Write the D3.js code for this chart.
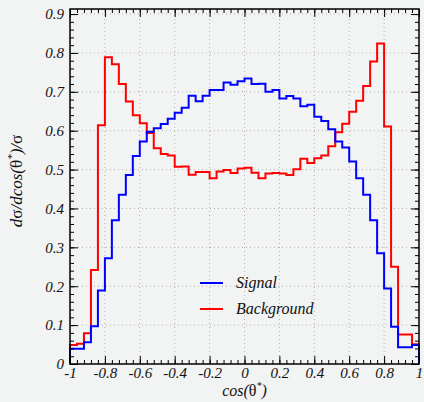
<!DOCTYPE html>
<html>
<head>
<meta charset="utf-8">
<script src="https://cdn.jsdelivr.net/npm/d3@7"></script>
<style>
  html, body { margin: 0; padding: 0; background: #f2f3f3; }
  svg { display: block; }
</style>
</head>
<body>
<div id="chart"></div>
<script>
// histogram data: 50 bins of cos(theta*) from -1 to 1
const binEdges = d3.range(51).map(i => -1 + i * 0.04);
const signal = [
  0.039, 0.039, 0.056, 0.097, 0.189, 0.272, 0.370, 0.435, 0.486, 0.535,
  0.572, 0.597, 0.606, 0.617, 0.631, 0.646, 0.659, 0.690, 0.676, 0.690,
  0.705, 0.705, 0.724, 0.718, 0.727, 0.734, 0.720, 0.721, 0.700, 0.705,
  0.683, 0.689, 0.683, 0.663, 0.667, 0.636, 0.625, 0.604, 0.572, 0.557,
  0.521, 0.478, 0.435, 0.370, 0.285, 0.194, 0.096, 0.043, 0.043, 0.049
];
const background = [
  0.049, 0.052, 0.079, 0.242, 0.614, 0.789, 0.771, 0.720, 0.675, 0.640,
  0.619, 0.594, 0.555, 0.540, 0.536, 0.507, 0.508, 0.487, 0.494, 0.494,
  0.478, 0.495, 0.499, 0.491, 0.503, 0.505, 0.492, 0.478, 0.490, 0.491,
  0.490, 0.486, 0.501, 0.528, 0.517, 0.529, 0.536, 0.560, 0.596, 0.618,
  0.649, 0.677, 0.715, 0.778, 0.824, 0.611, 0.250, 0.076, 0.076, 0.051
];
const xTicks = [-1, -0.8, -0.6, -0.4, -0.2, 0, 0.2, 0.4, 0.6, 0.8, 1];
const xTickLabels = ["-1", "-0.8", "-0.6", "-0.4", "-0.2", "0", "0.2", "0.4", "0.6", "0.8", "1"];
const yTicks = [0, 0.1, 0.2, 0.3, 0.4, 0.5, 0.6, 0.7, 0.8, 0.9];
const yTickLabels = ["0", "0.1", "0.2", "0.3", "0.4", "0.5", "0.6", "0.7", "0.8", "0.9"];
const legendItems = [
  { name: "Signal", color: "#0000ff" },
  { name: "Background", color: "#ff0000" }
];

const SERIF = '"Liberation Serif", "DejaVu Serif", serif';
const width = 424, height = 402;
const margin = { top: 9, right: 5, bottom: 38, left: 70 };
const yMax = 0.913;

const svg = d3.select('#chart').append('svg')
  .attr('width', width)
  .attr('height', height);

svg.append('rect')
  .attr('width', width)
  .attr('height', height)
  .attr('fill', '#f2f3f3');

const x = d3.scaleLinear()
  .domain([-1, 1])
  .range([margin.left, width - margin.right]);

const y = d3.scaleLinear()
  .domain([0, yMax])
  .range([height - margin.bottom, margin.top]);

// dotted grid
svg.append('g')
  .selectAll('line')
  .data(xTicks.slice(1, -1))
  .join('line')
  .attr('x1', d => x(d)).attr('x2', d => x(d))
  .attr('y1', y(0)).attr('y2', y(yMax))
  .attr('stroke', '#b0b0b0')
  .attr('stroke-width', 1)
  .attr('stroke-dasharray', '1,3');

svg.append('g')
  .selectAll('line')
  .data(yTicks.slice(1))
  .join('line')
  .attr('x1', x(-1)).attr('x2', x(1))
  .attr('y1', d => y(d)).attr('y2', d => y(d))
  .attr('stroke', '#b0b0b0')
  .attr('stroke-width', 1)
  .attr('stroke-dasharray', '1,3');

// step histograms
function stepPoints(values) {
  const pts = [[binEdges[0], 0]];
  values.forEach((v, i) => {
    pts.push([binEdges[i], v]);
    pts.push([binEdges[i + 1], v]);
  });
  pts.push([binEdges[binEdges.length - 1], 0]);
  return pts;
}

const line = d3.line()
  .x(d => x(d[0]))
  .y(d => y(d[1]));

svg.append('path')
  .datum(stepPoints(background))
  .attr('d', line)
  .attr('fill', 'none')
  .attr('stroke', '#ff0000')
  .attr('stroke-width', 2);

svg.append('path')
  .datum(stepPoints(signal))
  .attr('d', line)
  .attr('fill', 'none')
  .attr('stroke', '#0000ff')
  .attr('stroke-width', 2);

// axes: ticks inside on all four sides
const xMinor = d3.range(0, 51).map(i => -1 + i * 0.04);
const yMinor = d3.range(0, 46).map(i => i * 0.02);

function styleAxis(g) {
  g.select('.domain').remove();
  g.selectAll('.tick line').attr('stroke', '#000').attr('stroke-width', 1);
}
function styleLabels(g) {
  g.attr('font-family', SERIF).attr('font-size', 15);
  g.selectAll('.tick text')
    .attr('font-style', 'italic')
    .attr('fill', '#111');
}

svg.append('g')
  .attr('transform', `translate(0,${y(0)})`)
  .call(d3.axisBottom(x).tickValues(xMinor).tickSize(-4).tickFormat(''))
  .call(styleAxis);
svg.append('g')
  .attr('transform', `translate(0,${y(0)})`)
  .call(d3.axisBottom(x).tickValues(xTicks).tickSize(-8).tickPadding(3)
    .tickFormat((d, i) => xTickLabels[i]))
  .call(styleAxis)
  .call(styleLabels);

svg.append('g')
  .attr('transform', `translate(0,${y(yMax)})`)
  .call(d3.axisTop(x).tickValues(xMinor).tickSize(-4).tickFormat(''))
  .call(styleAxis);
svg.append('g')
  .attr('transform', `translate(0,${y(yMax)})`)
  .call(d3.axisTop(x).tickValues(xTicks).tickSize(-8).tickFormat(''))
  .call(styleAxis);

svg.append('g')
  .attr('transform', `translate(${x(-1)},0)`)
  .call(d3.axisLeft(y).tickValues(yMinor).tickSize(-4).tickFormat(''))
  .call(styleAxis);
svg.append('g')
  .attr('transform', `translate(${x(-1)},0)`)
  .call(d3.axisLeft(y).tickValues(yTicks).tickSize(-8).tickPadding(6)
    .tickFormat((d, i) => yTickLabels[i]))
  .call(styleAxis)
  .call(styleLabels);

svg.append('g')
  .attr('transform', `translate(${x(1)},0)`)
  .call(d3.axisRight(y).tickValues(yMinor).tickSize(-4).tickFormat(''))
  .call(styleAxis);
svg.append('g')
  .attr('transform', `translate(${x(1)},0)`)
  .call(d3.axisRight(y).tickValues(yTicks).tickSize(-8).tickFormat(''))
  .call(styleAxis);

// frame
svg.append('rect')
  .attr('x', x(-1))
  .attr('y', y(yMax))
  .attr('width', x(1) - x(-1))
  .attr('height', y(0) - y(yMax))
  .attr('fill', 'none')
  .attr('stroke', '#000')
  .attr('stroke-width', 1.5);

// axis titles
const xTitle = svg.append('text')
  .attr('x', x(0))
  .attr('y', 396)
  .attr('text-anchor', 'middle')
  .attr('font-family', SERIF)
  .attr('font-style', 'italic')
  .attr('fill', '#111')
  .attr('font-size', 16);
xTitle.append('tspan').text('cos(');
xTitle.append('tspan').attr('font-style', 'normal').text('θ');
xTitle.append('tspan').attr('font-size', 10).attr('dy', -7).text('*');
xTitle.append('tspan').attr('dy', 7).text(')');

const yTitle = svg.append('text')
  .attr('transform', `translate(22,181) rotate(-90)`)
  .attr('text-anchor', 'middle')
  .attr('font-family', SERIF)
  .attr('font-style', 'italic')
  .attr('fill', '#111')
  .attr('font-size', 17);
yTitle.append('tspan').text('d');
yTitle.append('tspan').attr('font-style', 'normal').text('σ');
yTitle.append('tspan').text('/dcos(');
yTitle.append('tspan').attr('font-style', 'normal').text('θ');
yTitle.append('tspan').attr('font-size', 11).attr('dy', -7).text('*');
yTitle.append('tspan').attr('dy', 7).text(')/');
yTitle.append('tspan').attr('font-style', 'normal').text('σ');

// legend
const legend = svg.append('g');
legendItems.forEach((item, i) => {
  const ly = 283 + i * 26;
  legend.append('line')
    .attr('x1', 200).attr('x2', 223)
    .attr('y1', ly).attr('y2', ly)
    .attr('stroke', item.color)
    .attr('stroke-width', 2);
  legend.append('text')
    .attr('x', 236)
    .attr('y', ly + 5)
    .attr('font-family', SERIF)
    .attr('font-style', 'italic')
    .attr('fill', '#111')
    .attr('font-size', 16)
    .text(item.name);
});
</script>
</body>
</html>
